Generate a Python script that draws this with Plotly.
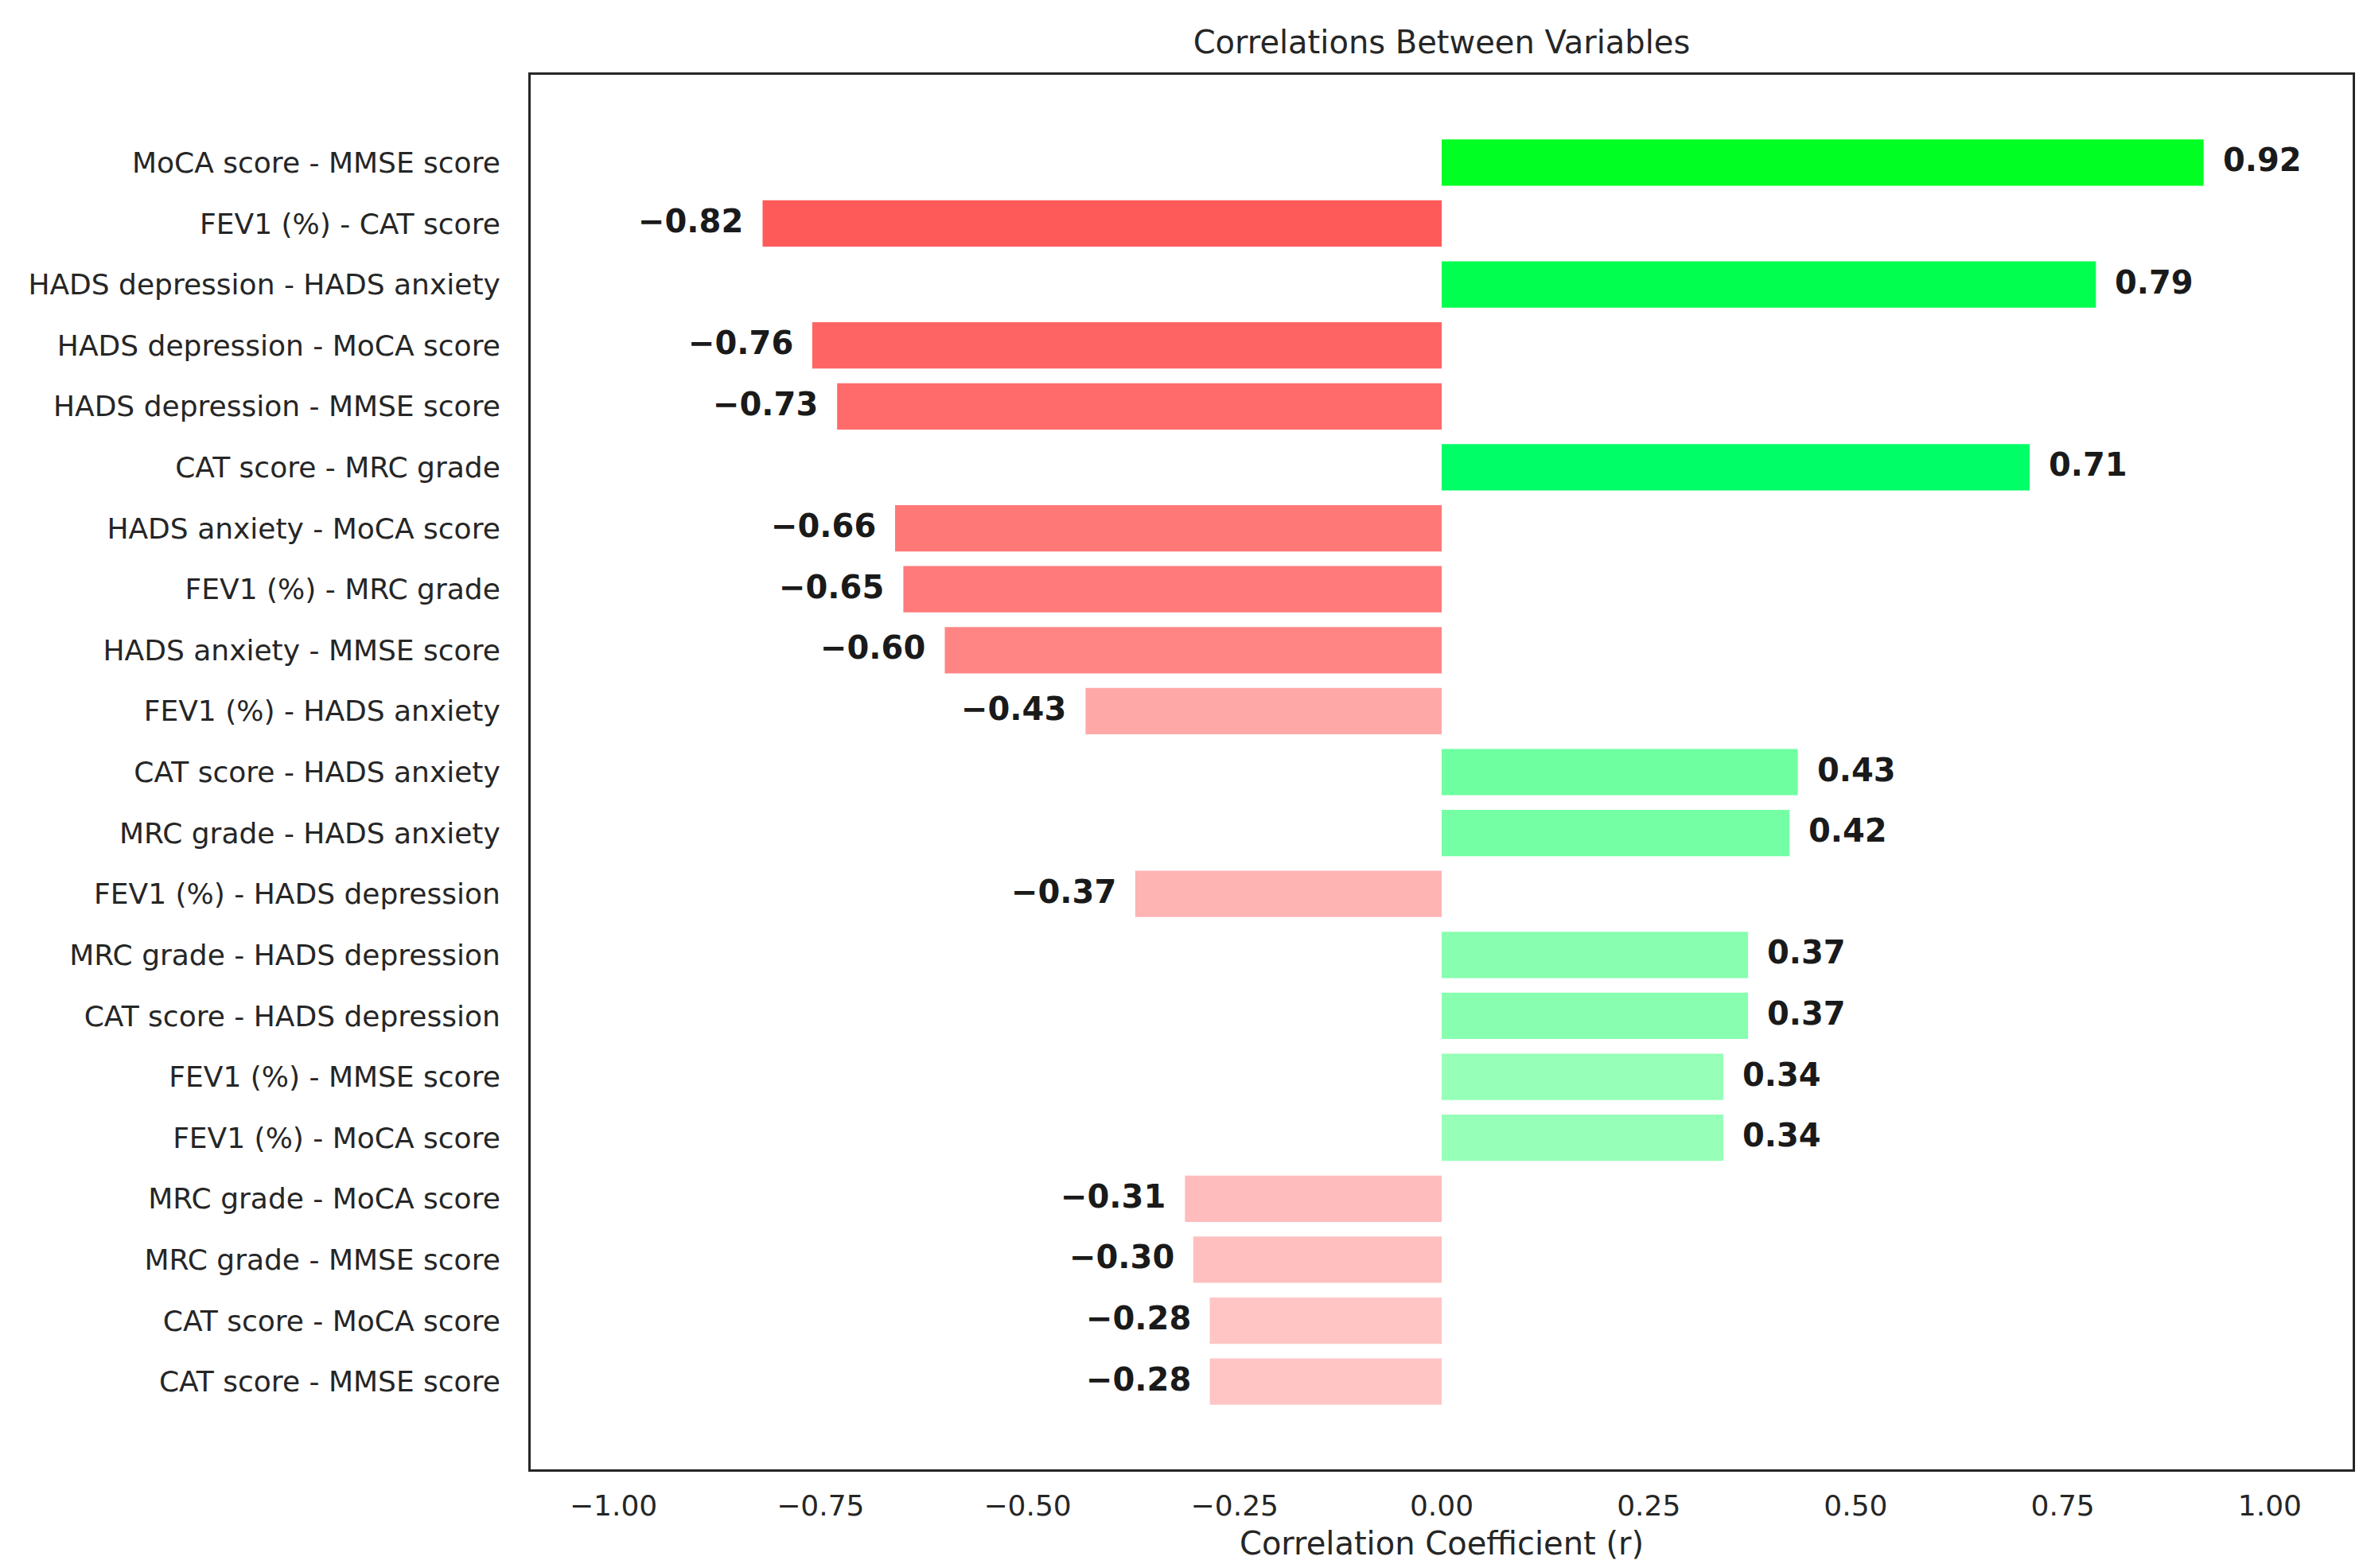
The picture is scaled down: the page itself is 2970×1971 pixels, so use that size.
import plotly.graph_objects as go

# ---------------------------------------------------------
# Data
# ---------------------------------------------------------
pairs = [
    "MoCA score - MMSE score",
    "FEV1 (%) - CAT score",
    "HADS depression - HADS anxiety",
    "HADS depression - MoCA score",
    "HADS depression - MMSE score",
    "CAT score - MRC grade",
    "HADS anxiety - MoCA score",
    "FEV1 (%) - MRC grade",
    "HADS anxiety - MMSE score",
    "FEV1 (%) - HADS anxiety",
    "CAT score - HADS anxiety",
    "MRC grade - HADS anxiety",
    "FEV1 (%) - HADS depression",
    "MRC grade - HADS depression",
    "CAT score - HADS depression",
    "FEV1 (%) - MMSE score",
    "FEV1 (%) - MoCA score",
    "MRC grade - MoCA score",
    "MRC grade - MMSE score",
    "CAT score - MoCA score",
    "CAT score - MMSE score",
]
r_values = [0.92, -0.82, 0.79, -0.76, -0.73, 0.71, -0.66, -0.65, -0.60, -0.43,
            0.43, 0.42, -0.37, 0.37, 0.37, 0.34, 0.34, -0.31, -0.30, -0.28, -0.28]

bar_colors = [
    "#00ff22", "#ff5a5a", "#00ff4e", "#ff6464", "#ff6a6a", "#00ff66", "#ff7878",
    "#ff7a7a", "#ff8585", "#ffa8a8", "#6dffa0", "#74ffa4", "#ffb4b4", "#88ffb0",
    "#88ffb0", "#96ffb8", "#96ffb8", "#ffbcbc", "#ffbfbf", "#ffc5c5", "#ffc5c5",
]

TEXT = "#262626"
FONT = "DejaVu Sans, Verdana, sans-serif"

fig = go.Figure()
fig.add_trace(go.Bar(
    x=r_values,
    y=pairs,
    orientation="h",
    width=0.76,
    marker=dict(color=bar_colors, line=dict(width=0)),
    hovertemplate="%{y}: %{x:.2f}<extra></extra>",
))

# value labels next to bar ends
for p, v in zip(pairs, r_values):
    lab = f"{v:.2f}".replace("-", "\u2212")
    fig.add_annotation(
        x=v, y=p, text=f"<b>{lab}</b>", showarrow=False,
        xanchor="left" if v > 0 else "right",
        xshift=22 if v > 0 else -22, yshift=3,
        font=dict(family=FONT, size=40, color="#1a1a1a"),
    )

fig.update_layout(
    width=2970, height=1971,
    paper_bgcolor="white", plot_bgcolor="white",
    margin=dict(l=659, r=21, t=86, b=132),
    showlegend=False,
    font=dict(family=FONT, color=TEXT),
    title=dict(text="Correlations Between Variables", x=(659 + 2949) / 2 / 2970, xanchor="center",
               y=1 - 45 / 1971, yanchor="middle", font=dict(size=40, color=TEXT)),
)
fig.update_xaxes(
    range=[-1.1, 1.1], tickvals=[-1, -0.75, -0.5, -0.25, 0, 0.25, 0.5, 0.75, 1],
    ticktext=["\u22121.00", "\u22120.75", "\u22120.50", "\u22120.25", "0.00", "0.25", "0.50", "0.75", "1.00"],
    showgrid=False, zeroline=False, showline=True, mirror=True, linecolor=TEXT, linewidth=3,
    ticks="", tickfont=dict(size=36, color=TEXT), ticklabelstandoff=12,
    title=dict(text="Correlation Coefficient (r)", font=dict(size=40, color=TEXT), standoff=14),
)
fig.update_yaxes(
    range=[20 + 1.44, -1.44], type="category",
    showgrid=False, zeroline=False, showline=True, mirror=True, linecolor=TEXT, linewidth=3,
    ticks="", tickfont=dict(size=36, color=TEXT), ticklabelstandoff=28,
)

fig.write_html("out.html")
